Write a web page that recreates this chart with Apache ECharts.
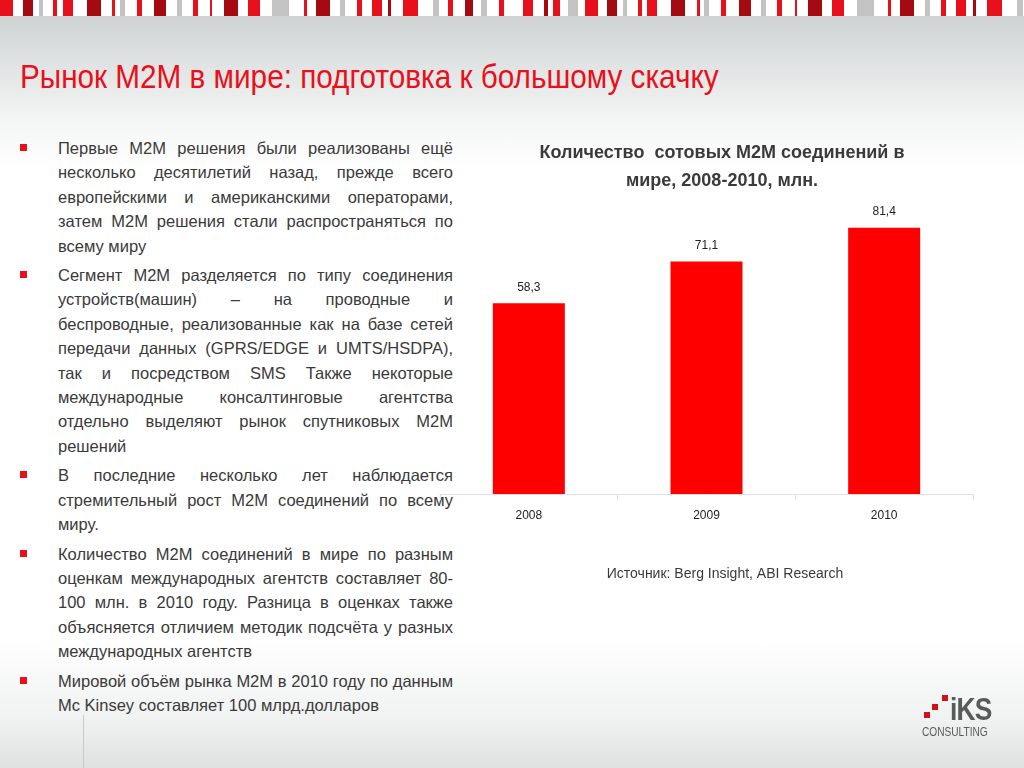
<!DOCTYPE html>
<html><head><meta charset="utf-8">
<script src="https://cdn.jsdelivr.net/npm/echarts@6/dist/echarts.min.js"></script>
<style>
html,body{margin:0;padding:0;width:1024px;height:768px;overflow:hidden;font-family:"Liberation Sans",Arial,sans-serif}
body{background:linear-gradient(to bottom,#c9cdce 0px,#dfe2e2 60px,#f4f5f5 120px,#fff 170px,#fff 640px,#f0f1f1 720px,#dfe1e1 768px);position:relative}
#stripe{position:absolute;left:0;top:0;width:1024px;height:16px;background:#fff}
#stripe div{position:absolute;top:0;height:16px}
#title{position:absolute;left:20px;top:58px;font-size:33px;color:#e8101a;transform:scaleX(0.9);transform-origin:left;white-space:nowrap}
#bul{position:absolute;left:20px;top:136px;width:433px;font-size:16.5px;line-height:24.4px;color:#3a3a3a}
#bul .b{position:relative;padding-left:38px;text-align:justify;text-align-last:left;margin-bottom:5px}
#bul .b:before{content:"";position:absolute;left:0;top:8px;width:7px;height:7px;background:#e8101a}
#chart{position:absolute;left:0;top:0;width:1024px;height:768px}
#vline{position:absolute;left:83px;top:715px;width:1px;height:53px;background:#c8c8c8}
#logo{position:absolute;left:922px;top:695px;color:#5a5a5a}
</style></head><body>
<div id="stripe"></div>
<div id="title">Рынок М2М в мире: подготовка к большому скачку</div>
<div id="bul">
<div class="b">Первые М2М решения были реализованы ещё несколько десятилетий назад, прежде всего европейскими и американскими операторами, затем М2М решения стали распространяться по всему миру</div>
<div class="b">Сегмент М2М разделяется по типу соединения устройств(машин) – на проводные и беспроводные, реализованные как на базе сетей передачи данных (GPRS/EDGE и UMTS/HSDPA), так и посредством SMS Также некоторые международные консалтинговые агентства отдельно выделяют рынок спутниковых М2М решений</div>
<div class="b">В последние несколько лет наблюдается стремительный рост М2М соединений по всему миру.</div>
<div class="b">Количество М2М соединений в мире по разным оценкам международных агентств составляет 80-100 млн. в 2010 году. Разница в оценках также объясняется отличием методик подсчёта у разных международных агентств</div>
<div class="b">Мировой объём рынка М2М в 2010 году по данным Mc Kinsey составляет 100 млрд.долларов</div>
</div>
<div id="vline"></div>
<div id="chart"></div>
<div id="logo">
<div style="position:relative;height:30px">
<div style="position:absolute;left:20px;top:0;width:6px;height:6px;background:#d0101a"></div>
<div style="position:absolute;left:10px;top:9px;width:6px;height:6px;background:#d0101a"></div>
<div style="position:absolute;left:2px;top:17px;width:6px;height:6px;background:#d0101a"></div>
<div style="position:absolute;left:28px;top:0px;font-size:31px;font-weight:bold;line-height:29px;letter-spacing:-1px;transform:scaleX(0.85);transform-origin:left">iKS</div>
</div>
<div style="font-size:13px;line-height:14px;transform:scaleX(0.78);transform-origin:left;white-space:nowrap">CONSULTING</div>
</div>
<script>
var stripeCols=["#e8101a","#a50a10","#c3c3c3","#e8101a","#e8101a","#a50a10","#e8101a","#c3c3c3"];
var st=document.getElementById('stripe'),x=0,i=0;
var widths=[13,7,10,3,4,8,4,3,10,11,14,9,3,2,5,9,5,10,12,8,5,8,5,10,2,9,14,7,12,10,17,12,3,6,14,8,5,9,5,7,10,4,3,9,15,12,6,7,5,9,8,5,6,10,5,16,10,8,4,3,7,5,10,4];
while(x<1024){var w=widths[i%widths.length];if(i%2===0){var d=document.createElement('div');d.style.left=x+'px';d.style.width=w+'px';d.style.background=stripeCols[(i/2)%stripeCols.length];st.appendChild(d);}x+=w+((i%3===0)?2:1);i++;}

var categories=["2008","2009","2010"];
var values=[58.3,71.1,81.4];
var labels=["58,3","71,1","81,4"];
var F="Liberation Sans";
var chart=echarts.init(document.getElementById('chart'));
chart.setOption({
 animation:false,
 title:[{text:"Количество  сотовых М2М соединений в\nмире, 2008-2010, млн.",left:717,top:134,textAlign:'center',
   textStyle:{fontSize:18,fontWeight:'bold',color:'#3a3a3a',lineHeight:28,fontFamily:F}},
  {text:"Источник: Berg Insight, ABI Research",left:720,top:562,textAlign:'center',
   textStyle:{fontSize:14,fontWeight:'normal',color:'#3a3a3a',fontFamily:F}}],
 grid:{left:440,right:51,top:167,height:327},
 xAxis:{type:'category',data:categories,
  axisLine:{lineStyle:{color:'#e0e0e0'}},axisTick:{show:true,lineStyle:{color:'#e0e0e0'},length:6},
  axisLabel:{color:'#222',fontSize:12,margin:16,fontFamily:F}},
 yAxis:{type:'value',min:0,max:100,show:false,splitLine:{show:false}},
 series:[{type:'bar',data:values,barWidth:72,itemStyle:{color:'#ff0000'},
  label:{show:true,position:'top',distance:10,color:'#222',fontSize:12,fontFamily:F,
   formatter:function(p){return labels[p.dataIndex];}}}]
});
</script>
</body></html>
